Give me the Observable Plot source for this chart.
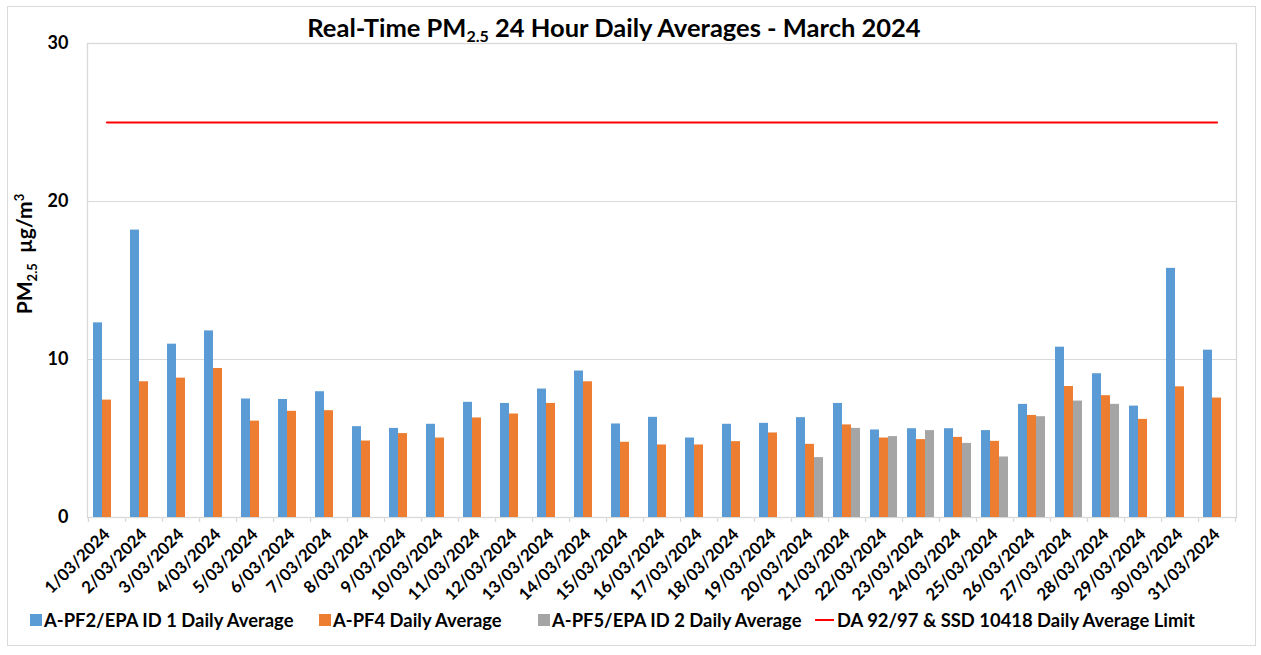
<!DOCTYPE html>
<html>
<head>
<meta charset="utf-8">
<script src="https://cdn.jsdelivr.net/npm/d3@7"></script>
<script src="https://cdn.jsdelivr.net/npm/@observablehq/plot@0.6"></script>
<style>
  html, body { margin: 0; padding: 0; background: #fff; }
  #wrap { position: relative; width: 1261px; height: 655px; font-family: Lato, "Open Sans", sans-serif; font-weight: bold; color: #000; overflow: hidden; background: #fff; }
  #border { position: absolute; left: 7px; top: 6px; width: 1249px; height: 640px; border: 1px solid #d9d9d9; box-sizing: border-box; }
  #title { position: absolute; top: 12px; left: 0; width: 1228px; text-align: center; font-size: 25.5px; line-height: 30px; z-index: 2; }
  #title sub { font-size: 16px; vertical-align: -5px; line-height: 0; }
  #chart { position: absolute; left: 0; top: 33px; z-index: 1; }
  .leg { position: absolute; top: 608px; font-size: 18.4px; line-height: 24px; white-space: nowrap; display: flex; align-items: center; }
  .sw { display: inline-block; width: 12px; height: 12px; margin-right: 2px; }
  .ln { display: inline-block; width: 19px; height: 2px; background: #ff0000; margin-right: 3px; }
</style>
</head>
<body>
<div id="wrap">
  <div id="border"></div>
  <div id="title">Real-Time PM<sub>2.5</sub> 24 Hour Daily Averages - March 2024</div>
  <div id="chart"></div>
  <div id="legend"></div>
</div>
<script>
const dates = ["1/03/2024","2/03/2024","3/03/2024","4/03/2024","5/03/2024","6/03/2024","7/03/2024","8/03/2024","9/03/2024","10/03/2024","11/03/2024","12/03/2024","13/03/2024","14/03/2024","15/03/2024","16/03/2024","17/03/2024","18/03/2024","19/03/2024","20/03/2024","21/03/2024","22/03/2024","23/03/2024","24/03/2024","25/03/2024","26/03/2024","27/03/2024","28/03/2024","29/03/2024","30/03/2024","31/03/2024"];
const pf2 = [12.32,18.19,10.97,11.81,7.50,7.47,7.96,5.75,5.64,5.90,7.29,7.22,8.13,9.27,5.92,6.34,5.03,5.90,5.96,6.32,7.22,5.54,5.62,5.62,5.50,7.16,10.78,9.10,7.05,15.77,10.59];
const pf4 = [7.43,8.59,8.82,9.43,6.10,6.72,6.76,4.84,5.31,5.03,6.30,6.55,7.22,8.59,4.76,4.59,4.59,4.80,5.35,4.63,5.86,5.03,4.93,5.07,4.82,6.46,8.29,7.71,6.21,8.27,7.56];
const pf5 = [null,null,null,null,null,null,null,null,null,null,null,null,null,null,null,null,null,null,null,3.79,5.64,5.12,5.50,4.69,3.83,6.38,7.37,7.16,null,null,null];
const limitValue = 25;
const limitSpan = [dates[0], dates[dates.length - 1]];
const yTicks = [0, 10, 20, 30];
const seriesNames = ["A-PF2/EPA ID 1 Daily Average", "A-PF4 Daily Average", "A-PF5/EPA ID 2 Daily Average", "DA 92/97 & SSD 10418 Daily Average Limit"];
const colors = ["#5b9bd5", "#ed7d31", "#a5a5a5", "#ff0000"];

const rows = (vals) => dates.map((d, i) => ({date: d, value: vals[i]})).filter(r => r.value != null);

const W = 1261, mL = 87, mR = 25, mT = 10, mB = 90, H = 484 + mB;
const step = (W - mL - mR) / dates.length;
const barW = 9;
const pIn = 1 - barW / step;

const chart = Plot.plot({
  width: W,
  height: H,
  marginLeft: mL,
  marginRight: mR,
  marginTop: mT,
  marginBottom: mB,
  style: {fontFamily: "Lato, 'Open Sans', sans-serif", fontWeight: "bold", color: "#000", background: "transparent", overflow: "visible"},
  x: {domain: dates, paddingInner: pIn, paddingOuter: pIn / 2, axis: null},
  y: {domain: [0, 30], axis: null},
  marks: [
    Plot.gridY({ticks: [10, 20], stroke: "#d9d9d9", strokeOpacity: 1}),
    Plot.frame({stroke: "#d9d9d9", strokeWidth: 1.3}),
    Plot.axisY({ticks: yTicks, tickSize: 0, tickPadding: 19, fontSize: 18, fontWeight: "bold", label: null}),
    Plot.axisX({ticks: dates, tickSize: 0, tickRotate: -45, tickPadding: 14, fontSize: 16.8, fontWeight: "bold", label: null}),
    Plot.axisX({ticks: dates, tickSize: 5, text: null, dx: step / 2, stroke: "#d9d9d9", strokeWidth: 1.3, label: null}),
    Plot.axisX({ticks: [dates[0]], tickSize: 5, text: null, dx: -step / 2, stroke: "#d9d9d9", strokeWidth: 1.3, label: null}),
    Plot.barY(rows(pf2), {x: "date", y: "value", fill: colors[0], dx: -barW}),
    Plot.barY(rows(pf4), {x: "date", y: "value", fill: colors[1]}),
    Plot.barY(rows(pf5), {x: "date", y: "value", fill: colors[2], dx: barW}),
    Plot.lineY(limitSpan, {x: d => d, y: () => limitValue, stroke: colors[3], strokeWidth: 2.2})
  ]
});
document.getElementById("chart").appendChild(chart);

// y-axis title with subscript/superscript
const svg = d3.select(chart);
const yt = svg.append("text")
  .attr("transform", `translate(32, ${254 - 33}) rotate(-90)`)
  .attr("text-anchor", "middle")
  .attr("font-size", 21)
  .attr("font-weight", "bold")
  .attr("fill", "#000");
yt.append("tspan").text("PM");
yt.append("tspan").attr("font-size", 13).attr("dy", 5).text("2.5");
yt.append("tspan").attr("dy", -5).text("\u00a0\u00a0µg/m");
yt.append("tspan").attr("font-size", 13).attr("dy", -8).text("3");

// legend
const legLeft = [30, 319, 538, 815];
const leg = document.getElementById("legend");
seriesNames.forEach((name, i) => {
  const item = document.createElement("div");
  item.className = "leg";
  item.style.left = legLeft[i] + "px";
  const sw = document.createElement("span");
  sw.className = i === 3 ? "ln" : "sw";
  if (i < 3) sw.style.background = colors[i];
  item.appendChild(sw);
  const t = document.createElement("span");
  t.textContent = name;
  item.appendChild(t);
  leg.appendChild(item);
});
</script>
</body>
</html>
